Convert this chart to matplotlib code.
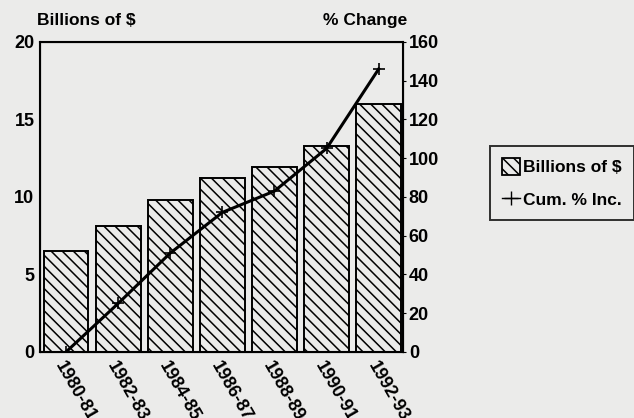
import numpy as np
import matplotlib.pyplot as plt
from matplotlib.patches import Patch
from matplotlib.lines import Line2D

periods = ['1980-81', '1982-83', '1984-85', '1986-87', '1988-89', '1990-91', '1992-93']
billions = [6.5, 8.1, 9.8, 11.2, 11.9, 13.3, 16.0]
cum_pct = [0, 25, 51, 72, 83, 105, 146]

bg = '#ebebea'
plt.rcParams['font.family'] = ['Liberation Sans', 'DejaVu Sans']
plt.rcParams['font.weight'] = 'bold'
plt.rcParams['hatch.linewidth'] = 1.1

fig = plt.figure(figsize=(6.34, 4.18), dpi=100, facecolor=bg)
ax = fig.add_axes([0.063, 0.158, 0.573, 0.742])
ax.set_facecolor(bg)

x = np.arange(len(periods))
ax.bar(x, billions, width=0.86, facecolor=bg, edgecolor='black',
       linewidth=1.4, hatch='\\\\\\')
ax.set_xlim(-0.5, 6.47)
ax.set_ylim(0, 20)
ax.set_yticks([0, 5, 10, 15, 20])
ax.set_xticks(x)
ax.set_xticklabels(periods, rotation=-60, ha='left', rotation_mode='anchor',
                   fontweight='bold')
ax.set_yticklabels([str(v) for v in [0, 5, 10, 15, 20]], fontweight='bold')
ax.tick_params(axis='both', labelsize=13, length=0, pad=4)
ax.tick_params(axis='x', pad=5)
for s in ax.spines.values():
    s.set_linewidth(1.5)

ax2 = ax.twinx()
ax2.plot(x, cum_pct, color='black', linewidth=2.2, marker='+', markersize=8,
         markeredgewidth=1.2)
ax2.set_ylim(0, 160)
ax2.set_yticks(range(0, 161, 20))
ax2.set_yticklabels([str(v) for v in range(0, 161, 20)], fontweight='bold')
ax2.tick_params(axis='y', labelsize=13, length=2, pad=2)

fig.text(0.058, 0.94, 'Billions of $', fontsize=12.5, fontweight='bold', ha='left')
fig.text(0.643, 0.94, '% Change', fontsize=12.5, fontweight='bold', ha='right')

handles = [Patch(facecolor=bg, edgecolor='black', hatch='\\\\\\', linewidth=1.3),
           Line2D([0], [0], color='black', marker='+', markersize=10, linewidth=1)]
leg = fig.legend(handles, ['Billions of $', 'Cum. % Inc.'], loc='upper left',
                 bbox_to_anchor=(0.773, 0.651), fontsize=12.5, frameon=True,
                 fancybox=False, edgecolor='black', facecolor=bg,
                 handlelength=1.0, handleheight=1.1, handletextpad=0.2,
                 borderpad=0.7, labelspacing=0.9, borderaxespad=0)
for t in leg.get_texts():
    t.set_fontweight('bold')
leg.get_frame().set_linewidth(1.4)

fig.savefig('out.png', dpi=100, facecolor=bg)
